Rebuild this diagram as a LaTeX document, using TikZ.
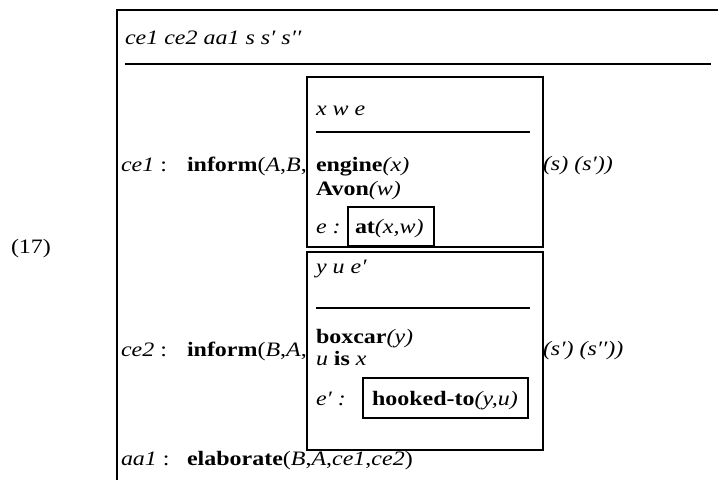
\documentclass[tikz,border=0pt]{standalone}
\usepackage{fontspec}
\setmainfont[FakeStretch=1.17]{Liberation Serif}
\begin{document}
\begin{tikzpicture}[x=1pt,y=-1pt,
  txt/.style={anchor=base west,inner sep=0pt,outer sep=0pt,
              font=\fontsize{20.5}{24}\selectfont},
  rule/.style={line width=2.6pt},
  frame/.style={line width=2.4pt},
  drsbox/.style={frame,fill=white}]
\useasboundingbox (0,0) rectangle (718,480);

% outer SDRS box, open to the right and below
\draw[rule] (718,10) -- (117,10) -- (117,480);
\draw[rule] (125,64) -- (711,64);

% example number and universe
\node[txt] (num) at (11,253) {(17)};
\node[txt] (univ) at (125,44) {\textit{ce1 ce2 aa1 s s′ s′′}};

% outer conditions
\node[txt] (l1) at (121,171) {\textit{ce1} :};
\node[txt] (r1) at (187,171) {\textbf{inform}(\textit{A},\textit{B},};
\node[txt] (t1) at (543,170) {\textit{(s) (s′))}};
\node[txt] (l2) at (121,356) {\textit{ce2} :};
\node[txt] (r2) at (187,356) {\textbf{inform}(\textit{B},\textit{A},};
\node[txt] (t2) at (543,355) {\textit{(s′) (s′′))}};
\node[txt] (l3) at (121,465) {\textit{aa1} :};
\node[txt] (r3) at (187,465) {\textbf{elaborate}(\textit{B},\textit{A},\textit{ce1},\textit{ce2})};

% embedded DRS for ce1
\draw[drsbox] (307,77) rectangle (543,247);
\draw[rule] (316,132) -- (530,132);
\draw[frame] (348,207) rectangle (434,246);
\node[txt] (u1) at (316,115) {\textit{x w e}};
\node[txt] (c11) at (316,171) {\textbf{engine}\textit{(x)}};
\node[txt] (c12) at (316,195) {\textbf{Avon}\textit{(w)}};
\node[txt] (c13) at (316,233) {\textit{e :}};
\node[txt] (c14) at (355,233) {\textbf{at}\textit{(x,w)}};

% embedded DRS for ce2
\draw[drsbox] (307,252) rectangle (543,450);
\draw[rule] (316,308) -- (530,308);
\draw[frame] (363,378) rectangle (528,418);
\node[txt] (u2) at (316,273) {\textit{y u e′}};
\node[txt] (c21) at (316,343) {\textbf{boxcar}\textit{(y)}};
\node[txt] (c22) at (316,365) {\textit{u} \textbf{is} \textit{x}};
\node[txt] (c23) at (316,405) {\textit{e′ :}};
\node[txt] (c24) at (372,405) {\textbf{hooked-to}\textit{(y,u)}};
\end{tikzpicture}
\end{document}
